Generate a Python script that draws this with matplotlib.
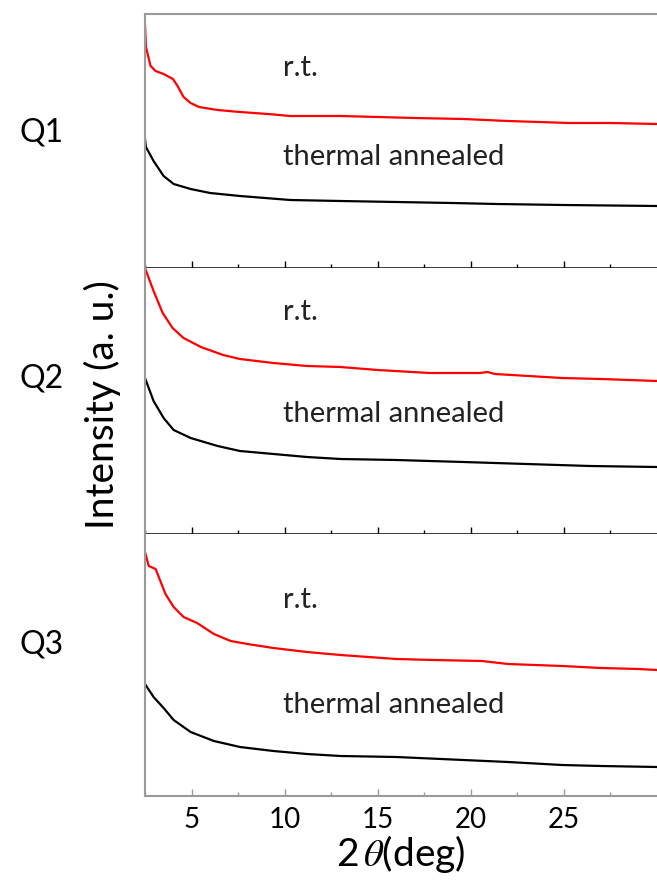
import matplotlib
matplotlib.use("Agg")
import matplotlib.pyplot as plt
from matplotlib.ticker import FixedLocator

plt.rcParams['font.family'] = ['Lato', 'DejaVu Sans']
plt.rcParams['mathtext.fontset'] = 'stix'

# Q1
q1_rt_x = [2.5, 2.55, 2.8, 3.07, 3.5, 4.0, 4.25, 4.57, 4.95, 5.4, 6.4, 7.6, 9.1, 10.3, 13.0, 15.0, 17.0, 19.6, 22.0, 25.3, 27.5, 30.0]
q1_rt_y = [244, 221, 202, 197, 194, 189, 182, 171, 165, 161, 158, 156, 154, 152, 152, 151, 150, 149, 147, 145, 145, 144]
q1_an_x = [2.5, 2.55, 2.96, 3.5, 4.04, 4.95, 6.0, 7.6, 10.3, 13.0, 16.0, 19.0, 21.4, 25.0, 30.0]
q1_an_y = [129, 121, 107, 92, 84, 79, 75, 72, 68, 67, 66, 65, 64, 63, 62]

# Q2
q2_rt_x = [2.5, 2.96, 3.45, 3.98, 4.57, 5.5, 6.7, 7.6, 9.4, 11.2, 13.0, 15.0, 17.8, 20.5, 20.9, 21.3, 24.9, 27.0, 30.0]
q2_rt_y = [266, 243, 221, 206, 196, 187, 179, 175, 171, 168, 167, 164, 161, 161, 162, 160, 156, 155, 153]
q2_an_x = [2.5, 2.96, 3.5, 4.04, 4.95, 6.4, 7.6, 9.4, 11.2, 13.0, 16.0, 19.6, 23.0, 26.4, 30.0]
q2_an_y = [156, 133, 116, 104, 96, 88, 83, 80, 77, 75, 74, 72, 70, 68, 67]

# Q3
q3_rt_x = [2.5, 2.7, 3.07, 3.6, 4.04, 4.57, 5.3, 6.2, 7.1, 8.0, 9.4, 11.2, 13.0, 16.0, 18.0, 20.6, 22.0, 24.9, 27.0, 29.0, 30.0]
q3_rt_y = [244, 230, 227, 202, 189, 179, 173, 162, 155, 152, 148, 144, 141, 137, 136, 135, 132, 130, 128, 127, 126]
q3_an_x = [2.5, 2.96, 3.5, 4.04, 4.95, 6.2, 7.6, 9.4, 11.2, 13.0, 16.0, 19.6, 22.0, 24.9, 27.0, 30.0]
q3_an_y = [112, 99, 88, 76, 64, 55, 49, 45, 42, 40, 39, 36, 34, 31, 30, 29]

panel_names = ["Q1", "Q2", "Q3"]
rt_label = "r.t."
an_label = "thermal annealed"
xticks = [5, 10, 15, 20, 25]
xminor = [2.5, 7.5, 12.5, 17.5, 22.5, 27.5]

fig = plt.figure(figsize=(6.57, 8.92), dpi=100)
W, H = 657, 892
left = 145 / W
tops = [14, 268, 534]
bottoms = [268, 534, 796]

data = [(q1_rt_x, q1_rt_y, q1_an_x, q1_an_y),
        (q2_rt_x, q2_rt_y, q2_an_x, q2_an_y),
        (q3_rt_x, q3_rt_y, q3_an_x, q3_an_y)]
text_y = [(200, 111), (222, 120), (196, 91)]
gray = "#9a9a9a"

for i in range(3):
    t, b = tops[i], bottoms[i]
    ax = fig.add_axes([left, 1 - b / H, 1 - left, (b - t) / H])
    rx, ry, ax_, ay = data[i]
    ax.plot(rx, ry, color="red", lw=1.6)
    ax.plot(ax_, ay, color="black", lw=1.6)
    ax.set_xlim(2.5, 30)
    ax.set_ylim(0, b - t)
    ax.set_yticks([])
    ax.spines['right'].set_visible(False)
    ax.spines['left'].set_color(gray)
    ax.spines['left'].set_linewidth(1.5)
    ax.spines['top'].set_visible(i == 0)
    ax.spines['top'].set_color(gray)
    ax.spines['top'].set_linewidth(1.5)
    bc = gray if i == 2 else "black"
    ax.spines['bottom'].set_color(bc)
    ax.spines['bottom'].set_linewidth(1.8 if i < 2 else 1.5)
    ax.xaxis.set_major_locator(FixedLocator(xticks))
    ax.xaxis.set_minor_locator(FixedLocator(xminor))
    ax.tick_params(axis='x', which='major', direction='in', length=5, width=1, color=bc)
    ax.tick_params(axis='x', which='minor', direction='in', length=3, width=1, color=bc)
    if i < 2:
        ax.tick_params(axis='x', labelbottom=False)
    else:
        ax.tick_params(axis='x', labelsize=20, pad=8)
        ax.set_xlabel(r"2$\,\theta$(deg)", fontsize=28, labelpad=0)
    ax.text(9.93, text_y[i][0], rt_label, fontsize=21, va='center', ha='left', color="#222222")
    ax.text(9.93, text_y[i][1], an_label, fontsize=21, va='center', ha='left', color="#222222")

fig.text(42 / W, 1 - 132 / H, panel_names[0], fontsize=23, ha='center', va='center')
fig.text(42 / W, 1 - 378 / H, panel_names[1], fontsize=23, ha='center', va='center')
fig.text(42 / W, 1 - 645 / H, panel_names[2], fontsize=23, ha='center', va='center')
fig.text(102 / W, 1 - 405 / H, "Intensity (a. u.)", fontsize=28, rotation=90, ha='center', va='center')

fig.savefig("out.png", dpi=100)
